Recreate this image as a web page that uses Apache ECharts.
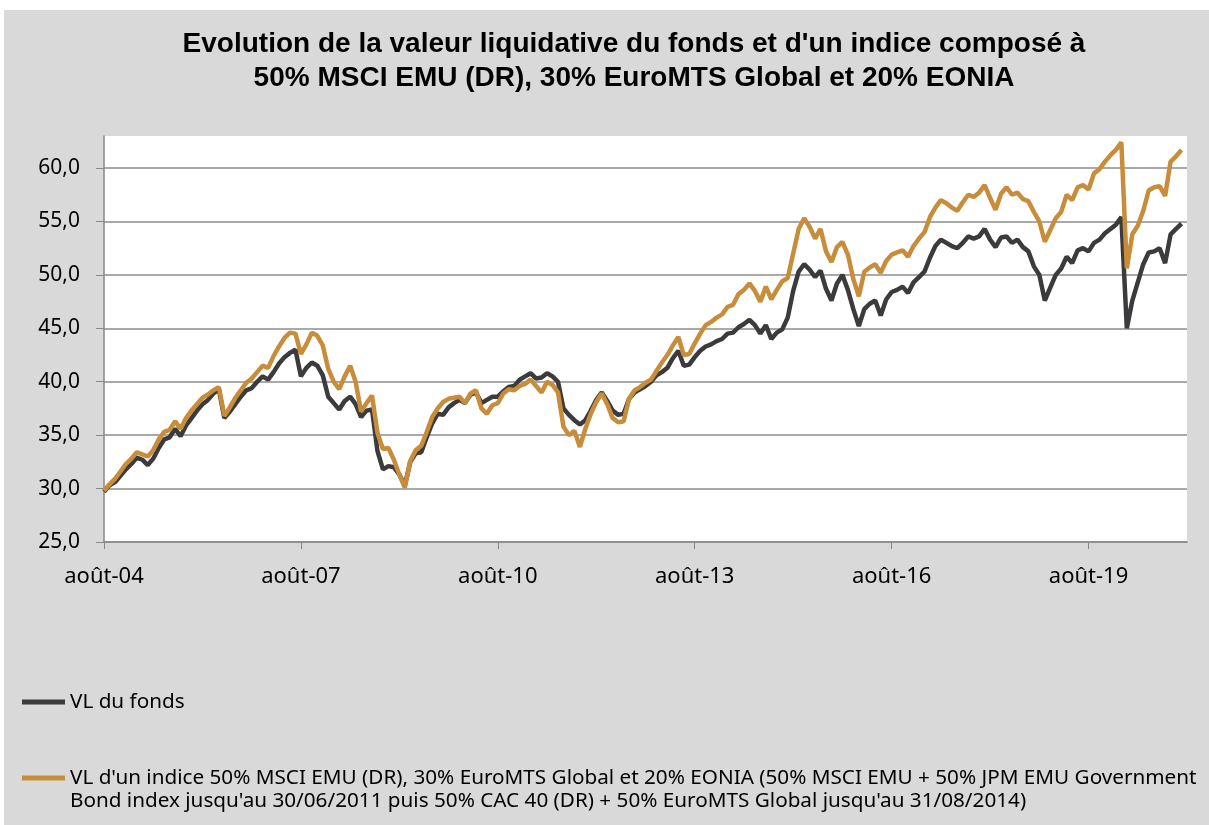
<!DOCTYPE html>
<html>
<head>
<meta charset="utf-8">
<script src="https://cdn.jsdelivr.net/npm/echarts@6/dist/echarts.min.js"></script>
<style>
  html, body { margin: 0; padding: 0; background: #fff; }
  #chart { position: absolute; left: 4px; top: 10px; width: 1205px; height: 815px; }
</style>
</head>
<body>
<div id="chart"></div>
<script>
  // libellés des mois (format Excel mmm-aa)
  var moisCourts = ['janv.', 'févr.', 'mars', 'avr.', 'mai', 'juin', 'juil.', 'août', 'sept.', 'oct.', 'nov.', 'déc.'];
  var nbMoisAxe = 199; // août-04 -> févr-21

  var nomFonds = 'VL du fonds';
  var nomIndice = "VL d'un indice 50% MSCI EMU (DR), 30% EuroMTS Global et 20% EONIA (50% MSCI EMU + 50% JPM EMU Government";
  var suiteIndice = "Bond index jusqu'au 30/06/2011 puis 50% CAC 40 (DR) + 50% EuroMTS Global jusqu'au 31/08/2014)";

  // valeurs mensuelles, à partir d'août 2004
  var vlFonds = [
    29.7, 30.3, 30.6, 31.2, 31.8, 32.3, 32.9, 32.7, 32.2, 32.8, 33.8, 34.6,
    34.8, 35.6, 34.9, 35.9, 36.6, 37.3, 37.9, 38.3, 38.9, 39.3, 36.6, 37.2,
    37.9, 38.6, 39.2, 39.4, 40.0, 40.5, 40.2, 40.9, 41.7, 42.3, 42.7, 43.0,
    40.5, 41.3, 41.8, 41.5, 40.6, 38.6, 38.0, 37.4, 38.2, 38.6, 37.9, 36.7,
    37.3, 37.4, 33.5, 31.8, 32.1, 32.0, 31.3, 30.3, 32.5, 33.3, 33.4, 34.8,
    36.1, 37.0, 36.9, 37.6, 38.0, 38.3, 38.0, 38.8, 39.0, 38.0, 38.3, 38.6,
    38.6, 39.1, 39.5, 39.6, 40.2, 40.5, 40.8, 40.3, 40.4, 40.8, 40.5, 40.0,
    37.5, 36.9, 36.4, 36.0, 36.4, 37.3, 38.3, 39.0, 38.2, 37.3, 36.9, 37.0,
    38.4, 39.0, 39.3, 39.6, 40.0, 40.6, 40.9, 41.3, 42.2, 42.9, 41.5, 41.6,
    42.3, 42.9, 43.3, 43.5, 43.8, 44.0, 44.5, 44.6, 45.1, 45.4, 45.8, 45.3,
    44.5, 45.3, 44.0, 44.6, 44.9, 46.0, 48.5, 50.3, 51.0, 50.5, 49.8, 50.4,
    48.7, 47.6, 49.2, 50.0, 48.6, 46.8, 45.2, 46.8, 47.3, 47.6, 46.2, 47.7,
    48.4, 48.6, 48.9, 48.3, 49.3, 49.8, 50.3, 51.6, 52.7, 53.3, 53.0, 52.7,
    52.5, 53.0, 53.6, 53.4, 53.6, 54.3, 53.3, 52.6, 53.5, 53.6, 53.0, 53.3,
    52.6, 52.2, 50.8, 50.0, 47.6, 48.8, 50.0, 50.6, 51.7, 51.1, 52.3, 52.5,
    52.2, 53.0, 53.3, 53.9, 54.3, 54.7, 55.4, 45.0, 47.6, 49.3, 51.0, 52.1,
    52.2, 52.5, 51.1, 53.8, 54.3, 54.8
  ];

  var vlIndice = [
    29.8, 30.4, 30.9, 31.6, 32.3, 32.8, 33.4, 33.2, 33.0, 33.6, 34.6, 35.3,
    35.5, 36.3, 35.6, 36.6, 37.3, 37.9, 38.5, 38.8, 39.2, 39.5, 36.8, 37.6,
    38.5, 39.2, 39.9, 40.3, 40.9, 41.5, 41.3, 42.4, 43.3, 44.1, 44.6, 44.5,
    42.6, 43.5, 44.6, 44.3, 43.4, 41.2, 40.0, 39.3, 40.5, 41.5, 40.0, 37.2,
    38.0, 38.7, 35.2, 33.7, 33.8, 32.7, 31.3, 30.1, 32.6, 33.6, 34.0, 35.3,
    36.7, 37.5, 38.1, 38.4, 38.5, 38.6, 38.0, 38.9, 39.2, 37.5, 37.0, 37.8,
    38.0, 38.9, 39.3, 39.2, 39.6, 39.8, 40.2, 39.6, 39.0, 40.0, 39.7, 39.0,
    35.8, 35.0, 35.4, 33.9, 35.6, 37.0, 38.1, 38.9, 37.9, 36.6, 36.2, 36.3,
    38.4, 39.2, 39.5, 39.9, 40.2, 41.0, 41.8, 42.5, 43.4, 44.2, 42.5, 42.6,
    43.6, 44.5, 45.3, 45.6, 46.0, 46.3, 47.0, 47.2, 48.2, 48.6, 49.2, 48.5,
    47.5, 48.9, 47.7, 48.6, 49.4, 49.7, 52.0, 54.3, 55.3, 54.5, 53.4, 54.3,
    52.2, 51.2, 52.6, 53.1, 51.9, 49.6, 48.0, 50.3, 50.7, 51.0, 50.2, 51.3,
    51.9, 52.1, 52.3, 51.7, 52.7, 53.4, 54.0, 55.4, 56.3, 57.0, 56.7, 56.3,
    56.0, 56.8, 57.5, 57.3, 57.7, 58.4, 57.2, 56.1, 57.6, 58.2, 57.5, 57.7,
    57.1, 56.9, 55.9, 55.0, 53.1, 54.2, 55.3, 55.9, 57.5, 57.0, 58.2, 58.4,
    58.0, 59.5, 59.9, 60.6, 61.2, 61.7, 62.4, 50.6, 53.8, 54.6, 56.0, 57.9,
    58.2, 58.3, 57.4, 60.6, 61.1, 61.7
  ];

  // catégories mensuelles août-04 ... févr-21
  var mois = [];
  for (var i = 0; i < nbMoisAxe; i++) {
    var m = (7 + i) % 12;
    var a = 2004 + Math.floor((7 + i) / 12);
    mois.push(moisCourts[m] + '-' + String(a).slice(2));
  }

  var couleurFonds = '#3b3b3d';
  var couleurIndice = '#c88d3b';
  var police = "'Noto Sans', sans-serif";

  var myChart = echarts.init(document.getElementById('chart'));

  var option = {
    backgroundColor: '#d9d9d9',
    animation: false,
    title: {
      text: "Evolution de la valeur liquidative du fonds et d'un indice composé à\n50% MSCI EMU (DR), 30% EuroMTS Global et 20% EONIA",
      left: 630,
      top: 17,
      padding: 0,
      textAlign: 'center',
      textStyle: {
        fontFamily: "'Liberation Sans', Arial, sans-serif",
        fontWeight: 'bold',
        fontSize: 28,
        lineHeight: 34,
        color: '#000'
      }
    },
    legend: [{
      data: [nomFonds],
      left: 18,
      top: 680,
      icon: 'rect',
      itemWidth: 43,
      itemHeight: 5,
      padding: 0,
      textStyle: { fontFamily: police, fontSize: 20.7, lineHeight: 24, color: '#000' }
    }, {
      data: [nomIndice],
      left: 18,
      top: 756,
      icon: 'rect',
      itemWidth: 43,
      itemHeight: 5,
      padding: 0,
      textStyle: { fontFamily: police, fontSize: 20.7, lineHeight: 24, color: '#000' }
    }],
    graphic: [{
      type: 'text',
      left: 66,
      top: 781,
      style: {
        text: suiteIndice,
        font: "20.7px 'Noto Sans', sans-serif",
        fill: '#000'
      }
    }],
    grid: {
      left: 100,
      right: 22,
      top: 126,
      bottom: 283,
      show: true,
      backgroundColor: '#fff',
      borderWidth: 0
    },
    xAxis: {
      type: 'category',
      data: mois,
      boundaryGap: false,
      axisLine: { lineStyle: { color: '#888', width: 1.5 } },
      axisTick: { interval: 35, length: 7, lineStyle: { color: '#888' } },
      axisLabel: {
        interval: 35,
        margin: 24,
        fontFamily: police,
        fontSize: 22,
        color: '#000'
      },
      splitLine: { show: false }
    },
    yAxis: {
      type: 'value',
      min: 25,
      max: 63,
      interval: 5,
      axisLine: { show: true, lineStyle: { color: '#888', width: 1.5 } },
      axisTick: { show: true, length: 8, lineStyle: { color: '#888' } },
      axisLabel: {
        margin: 24,
        showMaxLabel: false,
        fontFamily: police,
        fontSize: 21,
        color: '#000',
        formatter: function (v) {
          return v.toFixed(1).replace('.', ',');
        }
      },
      splitLine: {
        lineStyle: {
          width: 1.5,
          color: ['#8c8c8c', '#8c8c8c', '#8c8c8c', '#8c8c8c', '#8c8c8c', '#8c8c8c', '#8c8c8c', '#8c8c8c', 'rgba(0,0,0,0)']
        }
      }
    },
    series: [{
      name: nomFonds,
      type: 'line',
      data: vlFonds,
      showSymbol: false,
      color: couleurFonds,
      lineStyle: { width: 4.5, color: couleurFonds }
    }, {
      name: nomIndice,
      type: 'line',
      data: vlIndice,
      showSymbol: false,
      color: couleurIndice,
      lineStyle: { width: 4.5, color: couleurIndice }
    }]
  };

  myChart.setOption(option);
</script>
</body>
</html>
